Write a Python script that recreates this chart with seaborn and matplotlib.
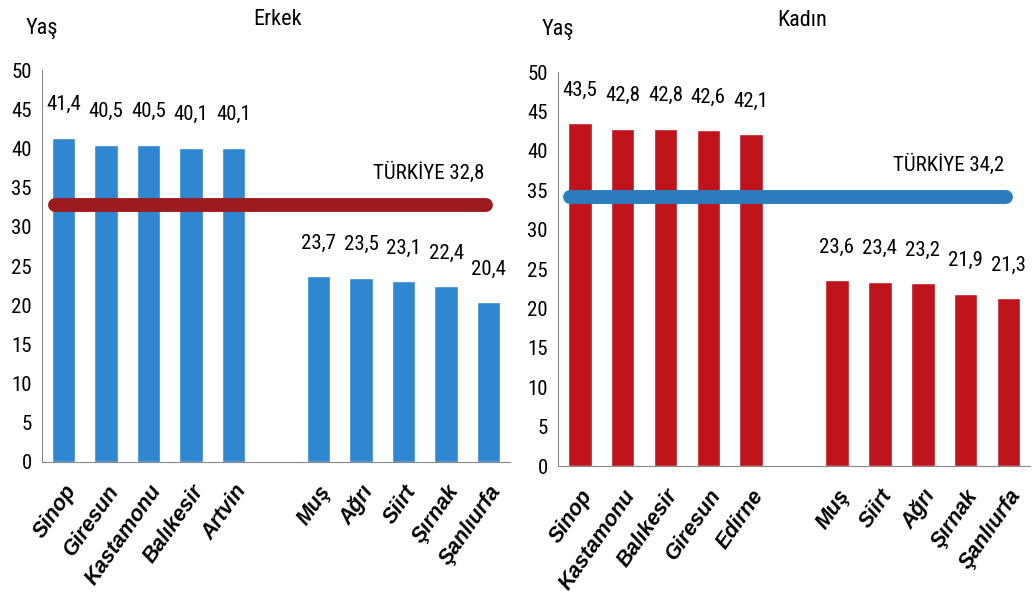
import matplotlib
matplotlib.use("Agg")
import matplotlib.pyplot as plt
import pandas as pd
import seaborn as sns

male_cities = ["Sinop", "Giresun", "Kastamonu", "Balıkesir", "Artvin", "", "Muş", "Ağrı", "Siirt", "Şırnak", "Şanlıurfa"]
male_ages = [41.4, 40.5, 40.5, 40.1, 40.1, 0, 23.7, 23.5, 23.1, 22.4, 20.4]
female_cities = ["Sinop", "Kastamonu", "Balıkesir", "Giresun", "Edirne", "", "Muş", "Siirt", "Ağrı", "Şırnak", "Şanlıurfa"]
female_ages = [43.5, 42.8, 42.8, 42.6, 42.1, 0, 23.6, 23.4, 23.2, 21.9, 21.3]
turkey_male = 32.8
turkey_female = 34.2

BLUE = "#2f86d1"
RED = "#c0141c"
NARROW = ["Liberation Sans Narrow", "DejaVu Sans Condensed", "Roboto Condensed", "Liberation Sans"]

sns.set_style("white")
plt.rcParams["font.family"] = ["Liberation Sans", "DejaVu Sans"]
plt.rcParams["text.color"] = "black"
plt.rcParams["xtick.color"] = "black"
plt.rcParams["ytick.color"] = "black"


def draw_panel(ax, cities, ages, bar_color, ref_value, ref_color, title, title_x, line_x0):
    keys = [c if c else " " for c in cities]
    df = pd.DataFrame({"city": keys, "age": ages})
    sns.barplot(data=df, x="city", y="age", order=keys, color=bar_color,
                width=0.55, saturation=1, ax=ax)
    for patch, value in zip(ax.patches, ages):
        if value == 0:
            patch.set_visible(False)
            continue
        ax.text(patch.get_x() + patch.get_width() / 2, value + 3.0,
                f"{value:.1f}".replace(".", ","), ha="center", va="bottom",
                fontsize=15, family=NARROW)

    n = len(keys)
    ax.plot([line_x0, n - 1.05], [ref_value, ref_value], color=ref_color, lw=10,
            solid_capstyle="round", zorder=3)
    ax.text(n - 1.1, ref_value + 2.8, f"TÜRKİYE {ref_value:.1f}".replace(".", ","),
            ha="right", va="bottom", fontsize=15, family=NARROW)

    ax.set_ylim(0, 50)
    ax.set_xlim(-0.5, n - 0.5)
    ax.set_yticks(range(0, 51, 5))
    ax.set_xticks(range(n))
    ax.set_xticklabels(cities, rotation=55, ha="right", rotation_mode="anchor",
                       fontsize=15.5, fontweight="bold", fontstyle="italic")
    ax.set_xticks([i - 0.5 for i in range(n + 1)], minor=True)
    ax.tick_params(axis="x", which="major", length=0, pad=14)
    ax.tick_params(axis="x", which="minor", length=5, color="#888888")
    ax.tick_params(axis="y", length=4, color="#888888", labelsize=15)
    for lbl in ax.get_yticklabels():
        lbl.set_family(NARROW)
    ax.set_xlabel("")
    ax.set_ylabel("")
    sns.despine(ax=ax)
    for side in ("left", "bottom"):
        ax.spines[side].set_color("#888888")
    ax.text(0.0, 1.107, "Yaş", transform=ax.transAxes, fontsize=16,
            family=NARROW, ha="center", va="center")
    ax.text(title_x, 1.13, title, transform=ax.transAxes, fontsize=16,
            family=NARROW, ha="center", va="center")


fig = plt.figure(figsize=(10.32, 6.11), dpi=100)
ax1 = fig.add_axes([0.041, 0.244, 0.453, 0.641])
ax2 = fig.add_axes([0.541, 0.237, 0.457, 0.645])

draw_panel(ax1, male_cities, male_ages, BLUE, turkey_male, "#9b1b1f", "Erkek", 0.504, -0.2)
draw_panel(ax2, female_cities, female_ages, RED, turkey_female, "#2b7bbf", "Kadın", 0.517, -0.22)

fig.savefig("out.png", dpi=100)
